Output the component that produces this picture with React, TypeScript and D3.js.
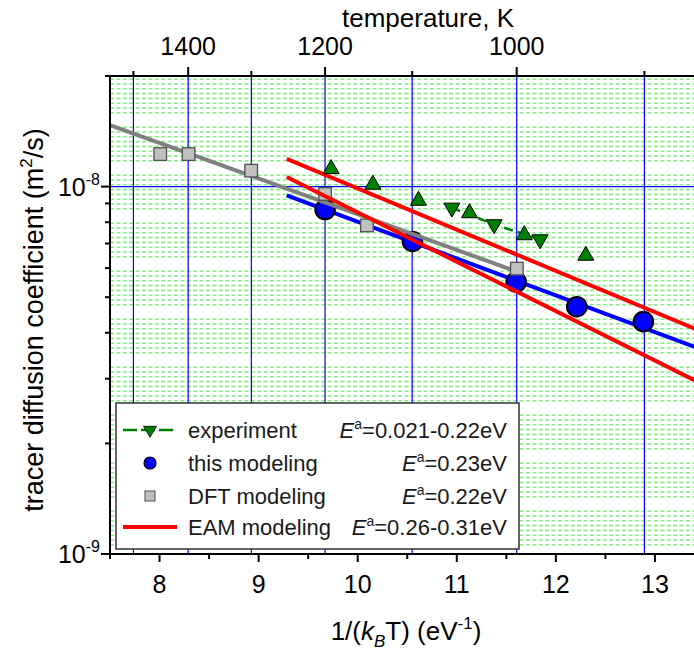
import React from "react";
import * as d3 from "d3";

// ---- data ----
const dftX = [8.007, 8.293, 8.925, 9.671, 10.093, 11.606];
const dftD = [1.226e-8, 1.226e-8, 1.105e-8, 9.55e-9, 7.84e-9, 5.98e-9];
const modX = [9.671, 10.553, 11.599, 12.211, 12.883];
const modD = [8.66e-9, 7.09e-9, 5.5e-9, 4.71e-9, 4.29e-9];
const expUpX = [9.732, 10.153, 10.613, 11.128, 11.681, 12.302];
const expUpD = [1.117e-8, 1.013e-8, 9.16e-9, 8.47e-9, 7.38e-9, 6.49e-9];
const expDownX = [10.95, 11.377, 11.841];
const expDownD = [8.756e-9, 7.89e-9, 7.18e-9];
const fitX = [9.284, 13.5];
const modFit = [9.466e-9, 3.58e-9];
const eamUpper = [1.19e-8, 4.0e-9];
const eamLower = [1.062e-8, 2.88e-9];
const dftFitX = [7.5, 11.6];
const dftFit = [1.47e-8, 5.88e-9];

const xMajor = [8, 9, 10, 11, 12, 13];
const xMinor = [7.5, 8.5, 9.5, 10.5, 11.5, 12.5, 13.5];
const tMajor = [1400, 1200, 1000];
const tMinor = [1500, 1300, 1100, 900];
const yMajor = [1e-9, 1e-8];
const yMinor = [2e-9, 3e-9, 4e-9, 5e-9, 6e-9, 7e-9, 8e-9, 9e-9, 2e-8];
const yMajorExp = ["-9", "-8"];
const KB_INV = 11604.5;

const legendRows = [
  { label: "experiment", ea: "=0.021-0.22eV" },
  { label: "this modeling", ea: "=0.23eV" },
  { label: "DFT modeling", ea: "=0.22eV" },
  { label: "EAM modeling", ea: "=0.26-0.31eV" },
];

const FONT = "'Liberation Sans', Arial, Helvetica, sans-serif";

const W = 694;
const H = 651;
const L = 110, R = 704.5, T = 76, B = 554;

export default function App() {
  const x = d3.scaleLinear().domain([7.5, 13.5]).range([L, R]);
  const y = d3.scaleLog().domain([1e-9, 2e-8]).range([B, T]);
  const line = d3.line<[number, number]>().x((d) => x(d[0])).y((d) => y(d[1]));

  const zip = (xs: number[], ys: number[]) => xs.map((v, i) => [v, ys[i]] as [number, number]);

  // dense light-green dashed minor grid (decorative texture)
  const greenRows: number[] = [];
  for (let base = 31.2; base < B; base += 48) {
    for (let i = 0; i < 8; i++) {
      const yy = base + i * 4.8;
      if (yy > T + 1 && yy < B - 1) greenRows.push(yy);
    }
  }

  const triUp = (w: number, h: number) =>
    `M0,${(-2 * h) / 3}L${w / 2},${h / 3}L${-w / 2},${h / 3}Z`;
  const triDown = (w: number, h: number) =>
    `M0,${(2 * h) / 3}L${w / 2},${-h / 3}L${-w / 2},${-h / 3}Z`;

  const legX = 116, legY = 403, legW = 403, legH = 146;
  const rowY = [430, 463, 496, 527];

  return (
    <svg
      width={W}
      height={H}
      style={{ position: "absolute", left: 0, top: 0, background: "#fff" }}
      fontFamily={FONT}
    >
      <defs>
        <clipPath id="plot">
          <rect x={L} y={T} width={R - L} height={B - T} />
        </clipPath>
      </defs>
      <rect x={0} y={0} width={W} height={H} fill="#fff" />
      <g clipPath="url(#plot)">
        {greenRows.map((yy, i) => (
          <line key={"g" + i} x1={L} x2={R} y1={yy} y2={yy} stroke="#86ee86" strokeWidth={1.6} strokeDasharray="4,2.4" />
        ))}
        {[...tMajor, ...tMinor].map((t) => (
          <line key={"vt" + t} x1={x(KB_INV / t)} x2={x(KB_INV / t)} y1={T} y2={B} stroke="#0000ff" strokeWidth={1.2} />
        ))}
        <line x1={L} x2={R} y1={y(1e-8)} y2={y(1e-8)} stroke="#0000ff" strokeWidth={1.2} />

        {/* fits */}
        <path d={line(zip(fitX, modFit)) || ""} stroke="#0000ff" strokeWidth={4} fill="none" />
        {modX.map((v, i) => (
          <circle key={"c" + i} cx={x(v)} cy={y(modD[i])} r={9.8} fill="#0000ff" stroke="#000" strokeWidth={2} />
        ))}
        <path d={line(zip(dftFitX, dftFit)) || ""} stroke="#808080" strokeWidth={4} fill="none" />
        {dftX.map((v, i) => (
          <rect key={"s" + i} x={x(v) - 6.3} y={y(dftD[i]) - 6.3} width={12.6} height={12.6} fill="#c0c0c0" stroke="#505050" strokeWidth={1.3} />
        ))}
        <path d={line(zip(fitX, eamUpper)) || ""} stroke="#ff0000" strokeWidth={4} fill="none" />
        <path d={line(zip(fitX, eamLower)) || ""} stroke="#ff0000" strokeWidth={4} fill="none" />

        {/* experiment */}
        <path d={line(zip(expDownX, expDownD)) || ""} stroke="#008000" strokeWidth={2.5} fill="none" strokeDasharray="9,5" />
        {expUpX.map((v, i) => (
          <path key={"tu" + i} transform={`translate(${x(v)},${y(expUpD[i])})`} d={triUp(16, 14)} fill="#008000" stroke="#000" strokeWidth={1} />
        ))}
        {expDownX.map((v, i) => (
          <path key={"td" + i} transform={`translate(${x(v)},${y(expDownD[i])})`} d={triDown(16, 14)} fill="#008000" stroke="#000" strokeWidth={1} />
        ))}
      </g>

      {/* legend */}
      <rect x={legX} y={legY} width={legW} height={legH} fill="#fff" stroke="#333" strokeWidth={1.5} />
      <line x1={123} x2={177} y1={rowY[0]} y2={rowY[0]} stroke="#008000" strokeWidth={2.5} strokeDasharray="14,4" />
      <path transform={`translate(150,${rowY[0]})`} d={triDown(13, 11)} fill="#008000" stroke="#000" strokeWidth={0.8} />
      <circle cx={150} cy={rowY[1]} r={6} fill="#0000ff" stroke="#000" strokeWidth={1.2} />
      <rect x={145} y={rowY[2] - 5} width={10} height={10} fill="#c0c0c0" stroke="#505050" strokeWidth={1} />
      <line x1={123} x2={177} y1={rowY[3]} y2={rowY[3]} stroke="#ff0000" strokeWidth={4} />
      {legendRows.map((r, i) => (
        <g key={"lr" + i} fontSize={22} fill="#1a1a1a">
          <text x={188} y={rowY[i] + 8}>{r.label}</text>
          <text x={507} y={rowY[i] + 8} textAnchor="end">
            <tspan fontStyle="italic">E</tspan>
            <tspan dy={-9} fontSize={14}>a</tspan>
            <tspan dy={9}>{r.ea}</tspan>
          </text>
        </g>
      ))}

      {/* axes lines */}
      <line x1={L} x2={R} y1={B} y2={B} stroke="#000" strokeWidth={2} />
      <line x1={L} x2={R} y1={T} y2={T} stroke="#000" strokeWidth={2} />
      <line x1={L} x2={L} y1={T - 1} y2={B + 1} stroke="#000" strokeWidth={2} />

      {/* bottom ticks */}
      {xMajor.map((v) => (
        <g key={"xm" + v}>
          <line x1={x(v)} x2={x(v)} y1={B} y2={B + 8} stroke="#000" strokeWidth={2} />
          <text x={x(v)} y={593} fontSize={25} textAnchor="middle" fill="#000">{v}</text>
        </g>
      ))}
      {xMinor.map((v) => (
        <line key={"xn" + v} x1={x(v)} x2={x(v)} y1={B} y2={B + 5} stroke="#000" strokeWidth={2} />
      ))}

      {/* top ticks */}
      {tMajor.map((t) => (
        <g key={"tm" + t}>
          <line x1={x(KB_INV / t)} x2={x(KB_INV / t)} y1={T} y2={T - 9} stroke="#000" strokeWidth={2} />
          <text x={x(KB_INV / t)} y={55} fontSize={25} textAnchor="middle" fill="#000">{t}</text>
        </g>
      ))}
      {tMinor.map((t) => (
        <line key={"tn" + t} x1={x(KB_INV / t)} x2={x(KB_INV / t)} y1={T} y2={T - 5} stroke="#000" strokeWidth={2} />
      ))}

      {/* left ticks */}
      {yMajor.map((v, i) => (
        <g key={"ym" + i}>
          <line x1={L} x2={L - 9} y1={y(v)} y2={y(v)} stroke="#000" strokeWidth={2} />
          <text x={100} y={y(v) + 9} fontSize={25} textAnchor="end" fill="#000">
            10<tspan dy={-11} fontSize={16}>{yMajorExp[i]}</tspan>
          </text>
        </g>
      ))}
      {yMinor.map((v, i) => (
        <line key={"yn" + i} x1={L} x2={L - 5} y1={y(v)} y2={y(v)} stroke="#000" strokeWidth={2} />
      ))}

      {/* titles */}
      <text x={428} y={27} fontSize={26} textAnchor="middle" fill="#000">temperature, K</text>
      <text transform="translate(43,320) rotate(-90)" fontSize={27} textAnchor="middle" fill="#000">
        tracer diffusion coefficient (m<tspan dy={-11} fontSize={17}>2</tspan>
        <tspan dy={11}>/s)</tspan>
      </text>
      <text x={406} y={640} fontSize={26} textAnchor="middle" fill="#000">
        1/(<tspan fontStyle="italic">k</tspan>
        <tspan dy={7} fontSize={17} fontStyle="italic">B</tspan>
        <tspan dy={-7}>T) (eV</tspan>
        <tspan dy={-11} fontSize={17}>-1</tspan>
        <tspan dy={11}>)</tspan>
      </text>
    </svg>
  );
}
